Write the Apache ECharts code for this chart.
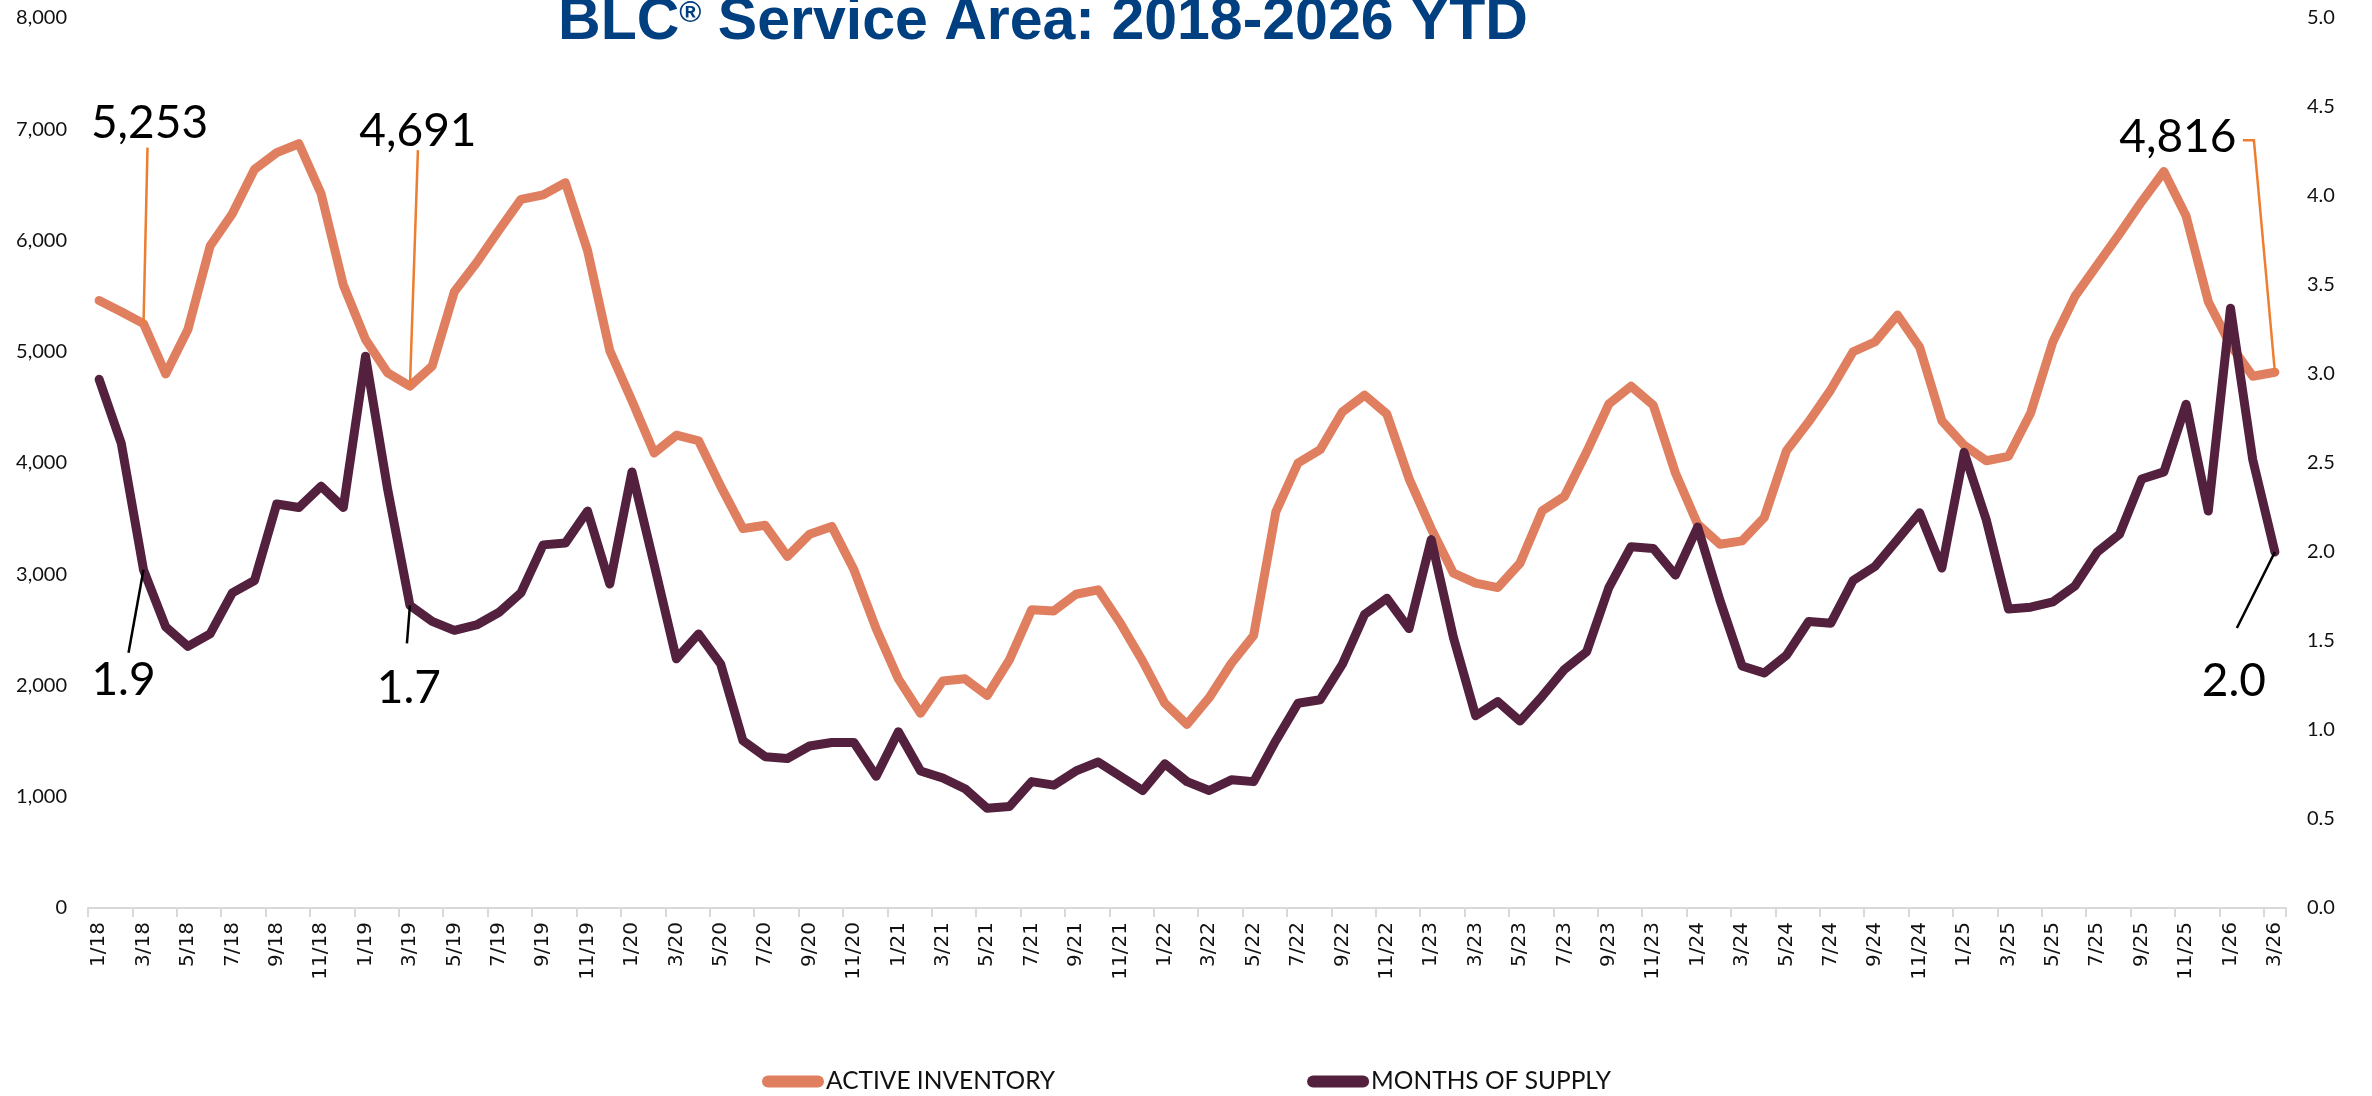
<!DOCTYPE html>
<html>
<head>
<meta charset="utf-8">
<script src="https://cdn.jsdelivr.net/npm/echarts@6/dist/echarts.min.js"></script>
<style>
html,body{margin:0;padding:0;background:#fff;}
#chart{width:2372px;height:1096px;}
</style>
</head>
<body>
<div id="chart"></div>
<script>
// Months 1/18 .. 3/26
const years = [18,19,20,21,22,23,24,25,26];
const categories = [];
years.forEach(y => { const n = (y === 26) ? 3 : 12; for (let m = 1; m <= n; m++) categories.push(m + '/' + y); });

const activeInventory = [
  5460,5360,5253,4800,5200,5950,6240,6640,6790,6870,6420,5600,
  5110,4810,4691,4870,5540,5800,6090,6370,6410,6520,5910,5010,
  4560,4090,4250,4200,3790,3410,3440,3160,3360,3430,3040,2510,
  2060,1750,2040,2060,1910,2230,2680,2670,2820,2860,2560,2220,
  1840,1650,1890,2200,2450,3560,4000,4120,4460,4610,4440,3860,
  3410,3010,2920,2880,3100,3570,3700,4100,4530,4690,4520,3910,
  3450,3270,3300,3510,4110,4370,4660,5000,5090,5330,5040,4380,
  4160,4020,4060,4450,5090,5500,5780,6060,6350,6620,6220,5450,
  5060,4780,4816
];
const monthsOfSupply = [
  2.97,2.61,1.9,1.58,1.47,1.54,1.77,1.84,2.27,2.25,2.37,2.25,
  3.10,2.35,1.7,1.61,1.56,1.59,1.66,1.77,2.04,2.05,2.23,1.82,
  2.45,1.93,1.40,1.54,1.37,0.94,0.85,0.84,0.91,0.93,0.93,0.74,
  0.99,0.77,0.73,0.67,0.56,0.57,0.71,0.69,0.77,0.82,0.74,0.66,
  0.81,0.71,0.66,0.72,0.71,0.94,1.15,1.17,1.37,1.65,1.74,1.57,
  2.07,1.52,1.08,1.16,1.05,1.19,1.34,1.44,1.80,2.03,2.02,1.87,
  2.14,1.73,1.36,1.32,1.42,1.61,1.60,1.84,1.92,2.07,2.22,1.91,
  2.56,2.18,1.68,1.69,1.72,1.81,2.00,2.10,2.41,2.45,2.83,2.23,
  3.37,2.52,2.0
];
const leftTicks = [0,1000,2000,3000,4000,5000,6000,7000,8000];
const rightTicks = [0,0.5,1,1.5,2,2.5,3,3.5,4,4.5,5];
const annotatedIdx = [2, 14, 98]; // 3/18, 3/19, 3/26

const ORANGE = '#E07F5F';
const PURPLE = '#53203E';
const NUMFONT = 'Lato, "Open Sans", sans-serif';

const chart = echarts.init(document.getElementById('chart'), null, {renderer:'canvas'});
chart.setOption({
  animation: false,
  backgroundColor: '#fff',
  title: {
    text: '{a|BLC}{r|®}{a| Service Area: 2018-2026 YTD}',
    left: 1038, top: -12, textAlign: 'center',
    textStyle: {
      rich: {
        a: {fontFamily: '"Liberation Sans", Arial, sans-serif', fontWeight: 'bold', fontSize: 59, color: '#003F80', lineHeight: 60},
        r: {fontFamily: '"Liberation Sans", Arial, sans-serif', fontWeight: 'bold', fontSize: 30, color: '#003F80', verticalAlign: 'top', lineHeight: 60, padding:[6,0,0,0]}
      }
    }
  },
  legend: {
    bottom: -3, left: 757,
    itemGap: 252, itemWidth: 62, itemHeight: 12,
    icon: 'path://M6,0 H56 A6,6 0 0 1 56,12 H6 A6,6 0 0 1 6,0 Z',
    textStyle: {fontFamily: NUMFONT, fontSize: 24.5, color: '#111', padding:[0,0,0,-3]},
    data: ['ACTIVE INVENTORY', 'MONTHS OF SUPPLY']
  },
  grid: {left: 88, right: 86, top: 18, bottom: 188, containLabel: false},
  xAxis: {
    type: 'category', data: categories, boundaryGap: true,
    axisLine: {lineStyle: {color: '#D9D9D9', width: 2}},
    axisTick: {show: true, interval: 1, length: 9, lineStyle: {color: '#D9D9D9', width: 2}},
    axisLabel: {interval: 1, rotate: 90, fontFamily: '"DejaVu Sans", sans-serif', fontSize: 20, color: '#111', margin: 14}
  },
  yAxis: [
    {type: 'value', min: leftTicks[0], max: leftTicks[leftTicks.length-1], interval: leftTicks[1]-leftTicks[0],
     splitLine: {show: false}, axisLine: {show: false}, axisTick: {show: false},
     axisLabel: {margin: 21, fontFamily: NUMFONT, fontSize: 20, color: '#111',
       formatter: v => v.toLocaleString('en-US')}},
    {type: 'value', min: rightTicks[0], max: rightTicks[rightTicks.length-1], interval: rightTicks[1]-rightTicks[0],
     splitLine: {show: false}, axisLine: {show: false}, axisTick: {show: false},
     axisLabel: {margin: 21, fontFamily: NUMFONT, fontSize: 20, color: '#111',
       formatter: v => v.toFixed(1)}}
  ],
  series: [
    {name: 'ACTIVE INVENTORY', type: 'line', yAxisIndex: 0, data: activeInventory,
     showSymbol: false, symbol: 'none', color: ORANGE, z: 2,
     lineStyle: {color: ORANGE, width: 9, cap: 'round', join: 'round'}},
    {name: 'MONTHS OF SUPPLY', type: 'line', yAxisIndex: 1, data: monthsOfSupply,
     showSymbol: false, symbol: 'none', color: PURPLE, z: 3,
     lineStyle: {color: PURPLE, width: 9, cap: 'round', join: 'round'}}
  ]
});

// Annotations placed relative to data points converted through the axes
function px(idx, val, yAxisIndex) {
  return chart.convertToPixel({xAxisIndex: 0, yAxisIndex: yAxisIndex}, [idx, val]);
}
const invOffsets = [
  {text: [6, -200], line: [[4, -176]]},
  {text: [8, -255], line: [[8, -236]]},
  {text: [-97, -235], line: [[-21, -232], [-32, -232]]}
];
const mosOffsets = [
  {text: [-20, 110], line: [[-15, 83]]},
  {text: [-1, 83], line: [[-3, 38]]},
  {text: [-41, 129], line: [[-38, 76]]}
];
const graphics = [];
annotatedIdx.forEach((idx, k) => {
  const p = px(idx, activeInventory[idx], 0);
  const o = invOffsets[k];
  const pts = [[p[0], p[1]]].concat(o.line.map(d => [p[0] + d[0], p[1] + d[1]]));
  graphics.push({type: 'polyline', shape: {points: pts}, style: {stroke: '#ED7D31', lineWidth: 2.5, fill: null}, z: 10});
  graphics.push({type: 'text', x: p[0] + o.text[0], y: p[1] + o.text[1],
    style: {text: activeInventory[idx].toLocaleString('en-US'), font: '46px ' + NUMFONT, fill: '#000', align: 'center', verticalAlign: 'middle'}, z: 10});
  const q = px(idx, monthsOfSupply[idx], 1);
  const m = mosOffsets[k];
  const qpts = [[q[0], q[1]]].concat(m.line.map(d => [q[0] + d[0], q[1] + d[1]]));
  graphics.push({type: 'polyline', shape: {points: qpts}, style: {stroke: '#000', lineWidth: 2.5, fill: null}, z: 10});
  graphics.push({type: 'text', x: q[0] + m.text[0], y: q[1] + m.text[1],
    style: {text: monthsOfSupply[idx].toFixed(1), font: '46px ' + NUMFONT, fill: '#000', align: 'center', verticalAlign: 'middle'}, z: 10});
});
chart.setOption({graphic: graphics});
</script>
</body>
</html>
